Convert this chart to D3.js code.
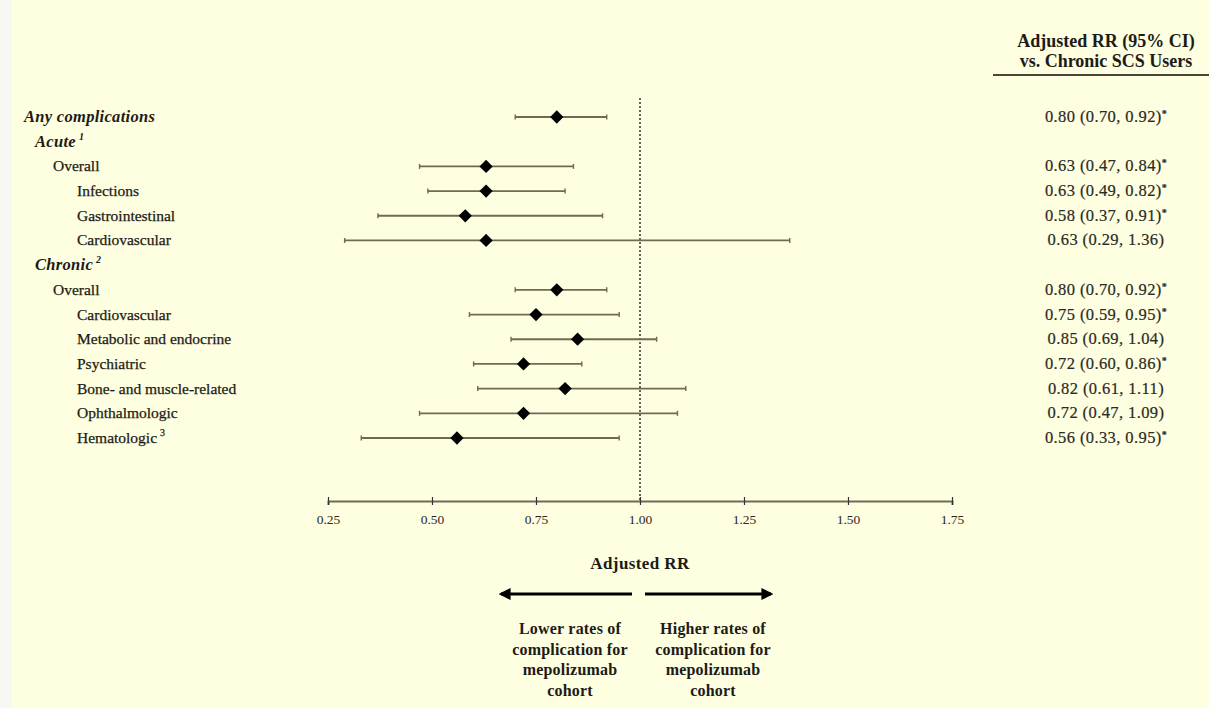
<!DOCTYPE html>
<html>
<head>
<meta charset="utf-8">
<script src="https://cdn.jsdelivr.net/npm/d3@7"></script>
<style>
  html, body { margin: 0; padding: 0; background: #fefee0; }
  svg { display: block; }
</style>
</head>
<body>
<script>
// Rows of the forest plot, top to bottom
const rowLabels = [
  "Any complications", "Acute", "Overall", "Infections", "Gastrointestinal", "Cardiovascular",
  "Chronic", "Overall", "Cardiovascular", "Metabolic and endocrine", "Psychiatric",
  "Bone- and muscle-related", "Ophthalmologic", "Hematologic"
];
// 0 = top line, 1 = group heading, 2 = group overall, 3 = category
const rowLevels = [0, 1, 2, 3, 3, 3, 1, 2, 3, 3, 3, 3, 3, 3];
const rowNotes = [null, "1", null, null, null, null, "2", null, null, null, null, null, null, "3"];

// Adjusted rate ratios with 95% CI
const rrValues = [0.80, null, 0.63, 0.63, 0.58, 0.63, null, 0.80, 0.75, 0.85, 0.72, 0.82, 0.72, 0.56];
const ciLower  = [0.70, null, 0.47, 0.49, 0.37, 0.29, null, 0.70, 0.59, 0.69, 0.60, 0.61, 0.47, 0.33];
const ciUpper  = [0.92, null, 0.84, 0.82, 0.91, 1.36, null, 0.92, 0.95, 1.04, 0.86, 1.11, 1.09, 0.95];
const significant = [true, false, true, true, true, false, false, true, true, false, true, false, false, true];

const xTicks = [0.25, 0.50, 0.75, 1.00, 1.25, 1.50, 1.75];

const W = 1209, H = 708;
const serif = "'Liberation Serif', 'DejaVu Serif', serif";
const ink = "#1c1b16";
const barColor = "#6f6a54";

const svg = d3.select("body").append("svg").attr("width", W).attr("height", H);

svg.append("rect").attr("width", W).attr("height", H).attr("fill", "#fefee0");
svg.append("rect").attr("width", 12).attr("height", H).attr("fill", "#f7f7f3");

const x = d3.scaleLinear().domain([0.25, 1.75]).range([328, 952]);
const y = d3.scalePoint().domain(d3.range(rowLabels.length)).range([117, 438]);

const rows = rowLabels.map((label, i) => ({
  i, label, level: rowLevels[i], note: rowNotes[i],
  rr: rrValues[i], lo: ciLower[i], hi: ciUpper[i], sig: significant[i]
}));

// Reference line at RR = 1
svg.append("line")
  .attr("x1", x(1)).attr("x2", x(1))
  .attr("y1", 98).attr("y2", 500)
  .attr("stroke", "#222").attr("stroke-width", 1.4)
  .attr("stroke-dasharray", "2,2");

// Axis
const axis = d3.axisBottom(x).tickValues(xTicks).tickFormat(d3.format(".2f")).tickSize(4).tickPadding(9);
const axG = svg.append("g").attr("transform", "translate(0,501)").call(axis);
axG.select(".domain").attr("stroke", barColor).attr("stroke-width", 2);
axG.selectAll(".tick line").attr("stroke", "#333").attr("stroke-width", 1.2).attr("y1", -4);
axG.selectAll(".tick text")
  .attr("font-family", serif).attr("font-size", 13.5).attr("fill", "#2a2a24");

// Left-hand labels
const indent = [24, 35, 53, 77];
const lab = svg.append("g").selectAll("text").data(rows).join("text")
  .attr("x", d => indent[d.level])
  .attr("y", d => y(d.i) + 5)
  .attr("font-family", serif)
  .attr("font-size", d => d.level <= 1 ? 16.5 : 15.5)
  .attr("letter-spacing", d => d.level <= 1 ? 0.3 : 0)
  .attr("font-weight", d => d.level <= 1 ? "bold" : "normal")
  .attr("font-style", d => d.level <= 1 ? "italic" : "normal")
  .attr("fill", ink)
  .attr("stroke", ink).attr("stroke-width", d => d.level <= 1 ? 0 : 0.25)
  .text(d => d.label);
lab.filter(d => d.note).append("tspan")
  .attr("dx", 3).attr("dy", -7).attr("font-size", 10)
  .text(d => d.note);

// Confidence intervals
const est = rows.filter(d => d.rr != null);
const ci = svg.append("g").selectAll("g").data(est).join("g");
ci.append("line")
  .attr("x1", d => x(d.lo)).attr("x2", d => x(d.hi))
  .attr("y1", d => y(d.i)).attr("y2", d => y(d.i))
  .attr("stroke", barColor).attr("stroke-width", 1.8);
ci.append("line")
  .attr("x1", d => x(d.lo)).attr("x2", d => x(d.lo))
  .attr("y1", d => y(d.i) - 2.5).attr("y2", d => y(d.i) + 2.5)
  .attr("stroke", barColor).attr("stroke-width", 1.4);
ci.append("line")
  .attr("x1", d => x(d.hi)).attr("x2", d => x(d.hi))
  .attr("y1", d => y(d.i) - 2.5).attr("y2", d => y(d.i) + 2.5)
  .attr("stroke", barColor).attr("stroke-width", 1.4);

// Point estimates
const diamond = d3.symbol().type(d3.symbolSquare).size(88);
svg.append("g").selectAll("path").data(est).join("path")
  .attr("d", diamond)
  .attr("transform", d => `translate(${x(d.rr)},${y(d.i)}) rotate(45)`)
  .attr("fill", "#000");

// Right-hand column: estimate text
const fmt = d3.format(".2f");
const hdr = svg.append("g").attr("font-family", serif).attr("font-weight", "bold")
  .attr("font-size", 18).attr("fill", ink).attr("text-anchor", "middle");
hdr.append("text").attr("x", 1106).attr("y", 47).text("Adjusted RR (95% CI)");
hdr.append("text").attr("x", 1106).attr("y", 67).text("vs. Chronic SCS Users");
svg.append("line").attr("x1", 993).attr("x2", 1209).attr("y1", 75).attr("y2", 75)
  .attr("stroke", "#4a4636").attr("stroke-width", 2);

const vals = svg.append("g").selectAll("text").data(est).join("text")
  .attr("x", 1106)
  .attr("y", d => y(d.i) + 5)
  .attr("text-anchor", "middle")
  .attr("font-family", serif).attr("font-size", 16.5).attr("letter-spacing", 0.4)
  .attr("fill", "#2a2a24").attr("stroke", "#2a2a24").attr("stroke-width", 0.2)
  .text(d => `${fmt(d.rr)} (${fmt(d.lo)}, ${fmt(d.hi)})`);
vals.filter(d => d.sig).append("tspan")
  .attr("dx", 0).attr("dy", -5).attr("font-size", 10).attr("font-weight", "bold")
  .text("*");

// Axis title and direction arrows
const foot = svg.append("g").attr("font-family", serif).attr("font-weight", "bold")
  .attr("fill", ink).attr("text-anchor", "middle");
foot.append("text").attr("x", x(1)).attr("y", 569).attr("font-size", 17)
  .attr("letter-spacing", 0.4).text("Adjusted RR");

const defs = svg.append("defs");
defs.append("marker").attr("id", "ah").attr("viewBox", "0 0 10 10")
  .attr("refX", 8).attr("refY", 5).attr("markerWidth", 4).attr("markerHeight", 4)
  .attr("orient", "auto-start-reverse")
  .append("path").attr("d", "M0,0 L10,5 L0,10 Z").attr("fill", "#000");

svg.append("line").attr("x1", 632).attr("x2", 501).attr("y1", 594).attr("y2", 594)
  .attr("stroke", "#000").attr("stroke-width", 3).attr("marker-end", "url(#ah)");
svg.append("line").attr("x1", 645).attr("x2", 771).attr("y1", 594).attr("y2", 594)
  .attr("stroke", "#000").attr("stroke-width", 3).attr("marker-end", "url(#ah)");

const leftNote = ["Lower rates of", "complication  for", "mepolizumab", "cohort"];
const rightNote = ["Higher rates of", "complication for", "mepolizumab", "cohort"];
foot.append("g").selectAll("text").data(leftNote).join("text")
  .attr("x", 570).attr("y", (d, i) => 634 + i * 20.5).attr("font-size", 16)
  .attr("letter-spacing", 0.2).text(d => d);
foot.append("g").selectAll("text").data(rightNote).join("text")
  .attr("x", 713).attr("y", (d, i) => 634 + i * 20.5).attr("font-size", 16)
  .attr("letter-spacing", 0.2).text(d => d);
</script>
</body>
</html>
